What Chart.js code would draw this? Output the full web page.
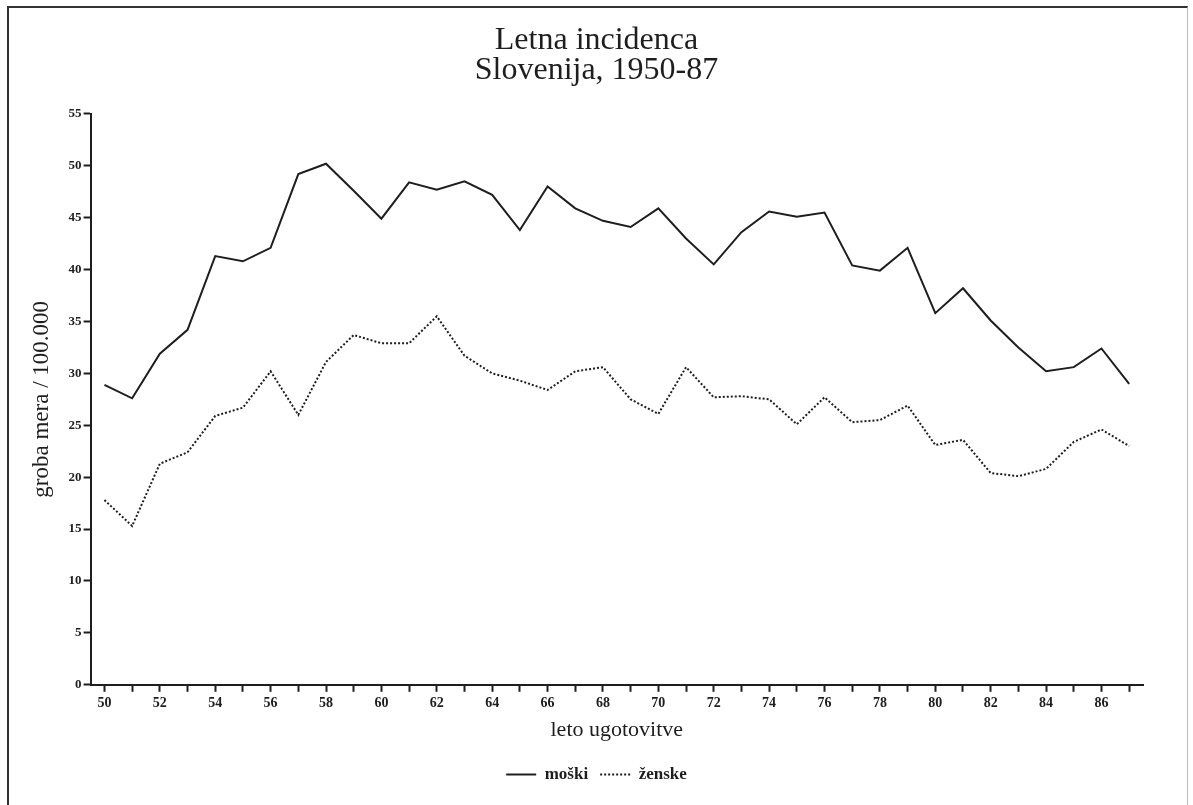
<!DOCTYPE html>
<html lang="sl">
<head>
<meta charset="utf-8">
<title>Letna incidenca</title>
<script src="https://cdn.jsdelivr.net/npm/chart.js@4/dist/chart.umd.min.js"></script>
<style>
  html, body { margin: 0; padding: 0; background: #fff; }
  body { width: 1193px; height: 805px; position: relative; overflow: hidden; }
  .frame {
    position: absolute; left: 7px; top: 6px; width: 1178px; height: 820px;
    border-left: 2px solid #333; border-top: 2px solid #333; border-right: 1px solid #bbb;
  }
  #chart { position: absolute; left: 0; top: 0; }
</style>
</head>
<body>
<div class="frame"></div>
<canvas id="chart" width="1193" height="805"></canvas>
<script>
// leta (1950-87)
const years = [50, 51, 52, 53, 54, 55, 56, 57, 58, 59, 60, 61, 62, 63, 64, 65, 66, 67, 68,
  69, 70, 71, 72, 73, 74, 75, 76, 77, 78, 79, 80, 81, 82, 83, 84, 85, 86, 87];

// groba mera / 100.000
const moski = [28.9, 27.6, 31.9, 34.2, 41.3, 40.8, 42.1, 49.2, 50.2, 47.6, 44.9, 48.4, 47.7,
  48.5, 47.2, 43.8, 48.0, 45.9, 44.7, 44.1, 45.9, 43.0, 40.5, 43.6, 45.6, 45.1, 45.5,
  40.4, 39.9, 42.1, 35.8, 38.2, 35.1, 32.5, 30.2, 30.6, 32.4, 29.0];
const zenske = [17.8, 15.3, 21.3, 22.4, 25.9, 26.7, 30.2, 26.0, 31.1, 33.7, 32.9, 32.9, 35.5,
  31.7, 30.0, 29.3, 28.4, 30.2, 30.6, 27.5, 26.1, 30.6, 27.7, 27.8, 27.5, 25.1, 27.7,
  25.3, 25.5, 26.9, 23.1, 23.6, 20.4, 20.1, 20.8, 23.4, 24.6, 23.0];

const titleLines = ['Letna incidenca', 'Slovenija, 1950-87'];
const xTitle = 'leto ugotovitve';
const yTitle = 'groba mera / 100.000';
const yTicks = [0, 5, 10, 15, 20, 25, 30, 35, 40, 45, 50, 55];

const SERIF = '"Liberation Serif", "DejaVu Serif", serif';
const INK = '#1e1e1e';

const toPoints = (values) => values.map((v, i) => ({ x: years[i], y: v }));

// naslov in legenda sta v izvirniku centrirana na celo stran
const centerOnPage = {
  id: 'centerOnPage',
  afterLayout(chart) {
    [chart.titleBlock, chart.legend].forEach(box => {
      if (box) {
        box.left = 0;
        box.right = chart.width;
      }
    });
  }
};

const ctx = document.getElementById('chart');

new Chart(ctx, {
  type: 'line',
  data: {
    datasets: [{
      label: 'moški',
      data: toPoints(moski),
      borderColor: INK,
      backgroundColor: INK,
      borderWidth: 2,
      pointRadius: 0,
      pointStyle: 'line',
      tension: 0
    }, {
      label: 'ženske',
      data: toPoints(zenske),
      borderColor: INK,
      backgroundColor: INK,
      borderWidth: 2,
      borderDash: [2, 2],
      pointRadius: 0,
      pointStyle: 'line',
      tension: 0
    }]
  },
  plugins: [centerOnPage],
  options: {
    responsive: false,
    animation: false,
    devicePixelRatio: 1,
    layout: {
      padding: { left: 28, right: 50, top: 8, bottom: 12 }
    },
    plugins: {
      tooltip: { enabled: false },
      title: {
        display: true,
        text: titleLines,
        color: INK,
        font: { family: SERIF, size: 32, weight: 'normal', lineHeight: 0.92 },
        padding: { top: 18, bottom: 29 }
      },
      legend: {
        position: 'bottom',
        labels: {
          color: INK,
          font: { family: SERIF, size: 17, weight: 'bold' },
          usePointStyle: true,
          pointStyleWidth: 30,
          boxHeight: 8,
          padding: 12,
          // point style ne prenese borderDash, zato ga dodamo sami
          generateLabels: (chart) => {
            const items = Chart.defaults.plugins.legend.labels.generateLabels(chart);
            items.forEach(item => {
              const ds = chart.data.datasets[item.datasetIndex];
              item.lineDash = ds.borderDash || [];
              item.lineWidth = 2;
              item.strokeStyle = INK;
            });
            return items;
          }
        }
      }
    },
    scales: {
      x: {
        type: 'linear',
        min: 49.5,
        max: 87.5,
        border: { display: true, color: INK, width: 2 },
        grid: { drawOnChartArea: false, drawTicks: true, tickLength: 7, tickWidth: 2, tickColor: INK },
        afterBuildTicks: (scale) => {
          scale.ticks = years.map(v => ({ value: v }));
        },
        ticks: {
          autoSkip: false,
          maxRotation: 0,
          color: INK,
          font: { family: SERIF, size: 14, weight: 'bold' },
          padding: 3,
          callback: (v) => (v % 2 === 0 ? String(v) : '')
        },
        title: {
          display: true,
          text: xTitle,
          color: INK,
          font: { family: SERIF, size: 22 },
          padding: { top: 2, bottom: 11 }
        }
      },
      y: {
        min: 0,
        max: 55,
        border: { display: true, color: INK, width: 2 },
        grid: { drawOnChartArea: false, drawTicks: true, tickLength: 7, tickWidth: 2, tickColor: INK },
        afterBuildTicks: (scale) => {
          scale.ticks = yTicks.map(v => ({ value: v }));
        },
        ticks: {
          color: INK,
          font: { family: SERIF, size: 13, weight: 'bold' },
          padding: 2
        },
        title: {
          display: true,
          text: yTitle,
          color: INK,
          font: { family: SERIF, size: 23 },
          padding: { top: 0, bottom: 11 }
        }
      }
    }
  }
});
</script>
</body>
</html>
